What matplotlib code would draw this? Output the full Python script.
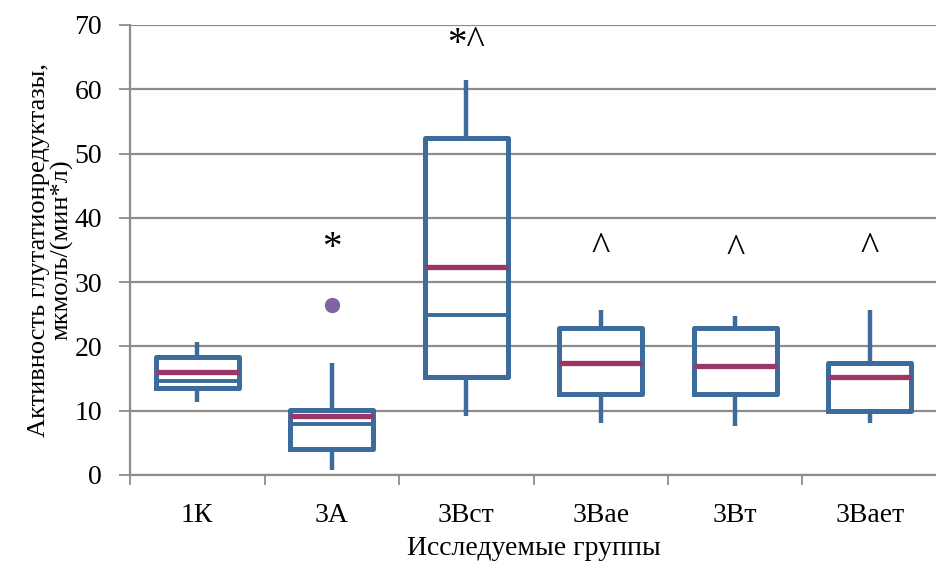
import matplotlib
matplotlib.use("Agg")
import matplotlib.pyplot as plt

# groups and box statistics
groups = ["1К", "3А", "3Вст", "3Вае", "3Вт", "3Ваeт".replace("e", "е")]
whislo = [11.4, 0.8, 9.2, 8.1, 7.6, 8.1]
q1 = [13.6, 4.0, 15.3, 12.6, 12.6, 10.0]
med = [14.7, 7.9, 24.9, 17.4, 17.0, 15.2]
mean = [16.0, 9.2, 32.4, 17.4, 17.0, 15.2]
q3 = [18.3, 10.1, 52.5, 22.9, 22.9, 17.4]
whishi = [20.7, 17.4, 61.4, 25.6, 24.8, 25.6]
outliers = [[], [26.4], [], [], [], []]

# significance marks
marks = ["", "*", "*^", "^", "^", "^"]
mark_y = [0, 35.3, 67.0, 35.0, 34.6, 35.0]

blue = "#3C6C9B"
crimson = "#9C3568"
grey = "#8C8C8C"

plt.rcParams["font.family"] = ["Liberation Serif", "DejaVu Serif"]

fig = plt.figure(figsize=(9.37, 5.62), dpi=100)
ax = fig.add_axes([130 / 937, 87 / 562, 807 / 937, 450 / 562])

stats = []
for i in range(len(groups)):
    stats.append(dict(label=groups[i], whislo=whislo[i], q1=q1[i], med=med[i],
                      mean=mean[i], q3=q3[i], whishi=whishi[i], fliers=outliers[i]))

ax.bxp(stats, positions=range(len(groups)), widths=0.62,
       showmeans=True, meanline=True, showcaps=False, patch_artist=False,
       boxprops=dict(color=blue, linewidth=3.6),
       whiskerprops=dict(color=blue, linewidth=3.2, solid_capstyle="butt"),
       medianprops=dict(color=blue, linewidth=2.8),
       meanprops=dict(color=crimson, linewidth=3.8, linestyle="-"),
       flierprops=dict(marker="o", markerfacecolor="#8064A2",
                       markeredgecolor="#8064A2", markersize=10))

for i, m in enumerate(marks):
    if m:
        ax.text(i, mark_y[i], m, ha="center", va="center", fontsize=28)

ax.set_xlim(-0.5, 5.42)
ax.set_ylim(0, 70)
ax.set_yticks(range(0, 71, 10))
ax.set_xticks(range(len(groups)))
ax.set_xticklabels(groups)
ax.set_xticks([x - 0.5 for x in range(len(groups) + 1)], minor=True)
ax.tick_params(axis="x", which="major", length=0, pad=20, labelsize=20)
ax.tick_params(axis="x", which="minor", length=7, width=1.3, color=grey)
ax.tick_params(axis="y", length=8, width=1.3, color=grey, labelsize=20, pad=12)

ax.yaxis.grid(True, color=grey, linewidth=1.6)
ax.set_axisbelow(True)
for s in ["top", "right"]:
    ax.spines[s].set_visible(False)
for s in ["left", "bottom"]:
    ax.spines[s].set_color(grey)
    ax.spines[s].set_linewidth(1.6)

ax.set_xlabel("Исследуемые группы", fontsize=20, labelpad=6)
ax.set_ylabel("Активность глутатионредуктазы,\nмкмоль/(мин*л)", fontsize=19,
              labelpad=1, linespacing=1.0)

fig.savefig("out.png", dpi=100)
